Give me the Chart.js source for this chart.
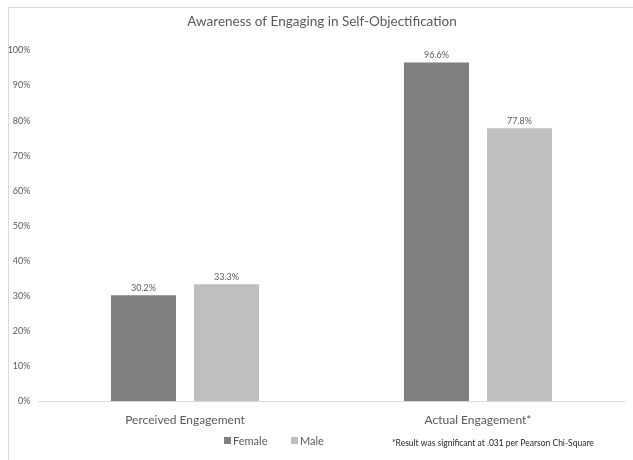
<!DOCTYPE html>
<html>
<head>
<meta charset="utf-8">
<script src="https://cdn.jsdelivr.net/npm/chart.js@4/dist/chart.umd.min.js"></script>
<style>
  html, body { margin: 0; padding: 0; background: #fff; }
  #wrap { width: 633px; height: 460px; position: relative; }
</style>
</head>
<body>
<div id="wrap"><canvas id="awareness"></canvas></div>
<script>
const title = "Awareness of Engaging in Self-Objectification";
const categories = ["Perceived Engagement", "Actual Engagement*"];
const female = [30.2, 96.6];
const male = [33.3, 77.8];
const yTicks = [0, 10, 20, 30, 40, 50, 60, 70, 80, 90, 100];
const footnote = "*Result was significant at .031 per Pearson Chi-Square";

const FONT = "Lato, 'Open Sans', sans-serif";
const GREY_TEXT = "#595959";

// frame line, title, value labels, legend and footnote
const extras = {
  id: "extras",
  beforeDraw(chart) {
    const ctx = chart.ctx;
    ctx.save();
    ctx.strokeStyle = "#d9d9d9";
    ctx.lineWidth = 1;
    ctx.strokeRect(8.5, 7.5, 700, 500);
    ctx.font = "13.5px " + FONT;
    ctx.fillStyle = GREY_TEXT;
    ctx.textAlign = "center";
    ctx.textBaseline = "middle";
    ctx.fillText(title, 322, 22);
    ctx.restore();
  },
  afterDatasetsDraw(chart) {
    const ctx = chart.ctx;
    ctx.save();
    ctx.font = "9px " + FONT;
    ctx.fillStyle = GREY_TEXT;
    ctx.textAlign = "center";
    ctx.textBaseline = "middle";
    chart.data.datasets.forEach((ds, i) => {
      chart.getDatasetMeta(i).data.forEach((bar, j) => {
        ctx.fillText(ds.data[j].toFixed(1) + "%", bar.x, bar.y - 7);
      });
    });
    ctx.restore();
  },
  afterDraw(chart) {
    const ctx = chart.ctx;
    ctx.save();
    ctx.textBaseline = "middle";
    ctx.textAlign = "left";
    ctx.font = "11px " + FONT;
    const legendX = [224, 291];
    chart.data.datasets.forEach((ds, i) => {
      ctx.fillStyle = ds.backgroundColor;
      ctx.fillRect(legendX[i], 437, 7, 7);
      ctx.fillStyle = GREY_TEXT;
      ctx.fillText(ds.label, legendX[i] + 9, 441);
    });
    ctx.font = "8.5px " + FONT;
    ctx.fillStyle = "#262626";
    ctx.fillText(footnote, 392, 443);
    ctx.restore();
  }
};

new Chart(document.getElementById("awareness"), {
  type: "bar",
  data: {
    labels: categories,
    datasets: [
      { label: "Female", data: female, backgroundColor: "#7f7f7f" },
      { label: "Male", data: male, backgroundColor: "#bfbfbf" }
    ]
  },
  options: {
    responsive: true,
    maintainAspectRatio: false,
    animation: false,
    devicePixelRatio: 1,
    categoryPercentage: 0.567,
    barPercentage: 0.783,
    layout: { padding: { left: 8.5, right: 8.5, top: 50.5, bottom: 0 } },
    plugins: {
      legend: { display: false },
      tooltip: { enabled: false }
    },
    scales: {
      x: {
        grid: { display: false },
        border: { color: "#d9d9d9" },
        ticks: {
          color: GREY_TEXT,
          font: { family: FONT, size: 12 },
          padding: 4
        },
        afterFit(scale) { scale.height = 59; }
      },
      y: {
        min: 0,
        max: 100,
        afterBuildTicks(scale) { scale.ticks = yTicks.map(v => ({ value: v })); },
        grid: { display: false, drawTicks: false },
        border: { display: false },
        ticks: {
          color: GREY_TEXT,
          font: { family: FONT, size: 9 },
          padding: 8,
          callback: v => v + "%"
        },
        afterFit(scale) { scale.width = 30; }
      }
    }
  },
  plugins: [extras]
});
</script>
</body>
</html>
